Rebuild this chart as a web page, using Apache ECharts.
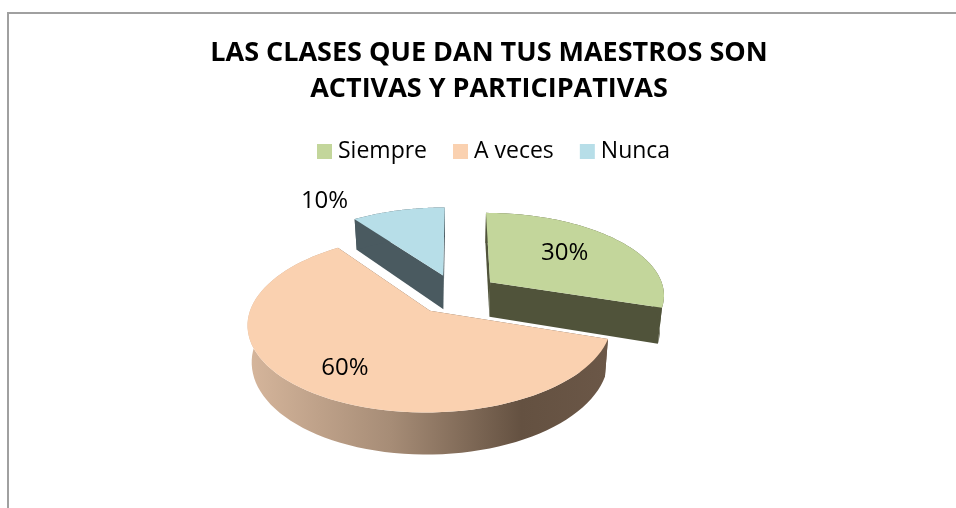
<!DOCTYPE html>
<html>
<head>
<meta charset="utf-8">
<style>
  html, body { margin: 0; padding: 0; background: #fff; }
  #chart { width: 956px; height: 508px; }
</style>
<script src="https://cdn.jsdelivr.net/npm/echarts@6/dist/echarts.min.js"></script>
</head>
<body>
<div id="chart"></div>
<script>
const categories = ['Siempre', 'A veces', 'Nunca']
const values = [30, 60, 10]
const titleLines = ['LAS CLASES QUE DAN TUS MAESTROS SON', 'ACTIVAS Y PARTICIPATIVAS']

const topColors = ['#C3D69B', '#FAD1B0', '#B7DEE8']
const wallColors = ['#50533A', null, '#4A5A60']
const fontName = '"Open Sans", sans-serif'

// pie geometry: tilted disc with a little perspective
const CX = 456, CY = 294
const RADIUS = 175, EXPLODE = 43
const TILT = 0.47, PERSP = 0.0008, DEPTH = 35, TAPER = 0.02
// label radius / angle (deg) for each slice, measured from its apex
const labelPolar = [[107, 50], [128, 215], [240, 323.5]]

const total = values.reduce((a, b) => a + b, 0)

function project(u, v, z) {
  const s = 1 / (1 + PERSP * v)
  return [CX + u * s * (1 - TAPER * z), CY + (-TILT * v + DEPTH * z) * s]
}

function renderSlice(index, api) {
  const value = api.value(0)
  const before = values.slice(0, index).reduce((a, b) => a + b, 0)
  const start = before / total * Math.PI * 2
  const end = (before + value) / total * Math.PI * 2
  const mid = (start + end) / 2
  const u0 = EXPLODE * Math.sin(mid)
  const v0 = EXPLODE * Math.cos(mid)
  const at = (a, r, z) => project(u0 + r * Math.sin(a), v0 + r * Math.cos(a), z)

  const arcTop = [], arcBottom = []
  for (let i = 0; i <= 80; i++) {
    const a = start + (end - start) * i / 80
    arcTop.push(at(a, RADIUS, 0))
    arcBottom.push(at(a, RADIUS, 1))
  }
  const apexTop = at(0, 0, 0)
  const apexBottom = at(0, 0, 1)

  // peach wall has the lit-to-dark shading, the others are flat
  const wallFill = wallColors[index] || new echarts.graphic.LinearGradient(0, 0, 1, 0, [
    { offset: 0, color: '#D6B69C' },
    { offset: 0.4, color: '#A68C76' },
    { offset: 0.76, color: '#645141' },
    { offset: 1, color: '#6B5747' }
  ])
  const flat = wallColors[index] || '#6B5747'
  const poly = (points, fill) => ({ type: 'polygon', shape: { points }, style: { fill } })

  const lab = labelPolar[index]
  const la = lab[1] * Math.PI / 180
  const labPos = at(la, lab[0], 0)

  return {
    type: 'group',
    children: [
      poly([apexTop, arcTop[0], arcBottom[0], apexBottom], flat),
      poly([apexTop, arcTop[80], arcBottom[80], apexBottom], flat),
      poly(arcTop.concat(arcBottom.slice().reverse()), wallFill),
      poly([apexTop].concat(arcTop), topColors[index]),
      {
        type: 'text',
        style: {
          text: value + '%',
          x: labPos[0],
          y: labPos[1],
          align: 'center',
          verticalAlign: 'middle',
          fill: '#000',
          font: '24px ' + fontName
        }
      }
    ]
  }
}

const chart = echarts.init(document.getElementById('chart'), null, { renderer: 'canvas' })

chart.setOption({
  animation: false,
  color: topColors,
  title: {
    text: titleLines.join('\n'),
    left: 484,
    top: 30,
    textAlign: 'center',
    textStyle: {
      fontFamily: fontName,
      fontWeight: 'bold',
      fontSize: 27,
      lineHeight: 36,
      color: '#000'
    }
  },
  legend: {
    data: categories,
    left: 317,
    top: 140,
    padding: 0,
    icon: 'rect',
    itemWidth: 15,
    itemHeight: 15,
    itemGap: 26,
    textStyle: { fontFamily: fontName, fontSize: 23, color: '#000', padding: [0, 0, 0, 1] }
  },
  graphic: [{
    type: 'polyline',
    silent: true,
    shape: { points: [[8, 508], [8, 13], [956, 13]] },
    style: { stroke: '#A0A0A0', lineWidth: 2, fill: null }
  }],
  // order: back slice first so the nearer ones paint over it
  series: [2, 1, 0].map(i => ({
    type: 'custom',
    name: categories[i],
    coordinateSystem: 'none',
    itemStyle: { color: topColors[i] },
    renderItem: (params, api) => renderSlice(i, api),
    data: [[values[i]]]
  }))
})
</script>
</body>
</html>
